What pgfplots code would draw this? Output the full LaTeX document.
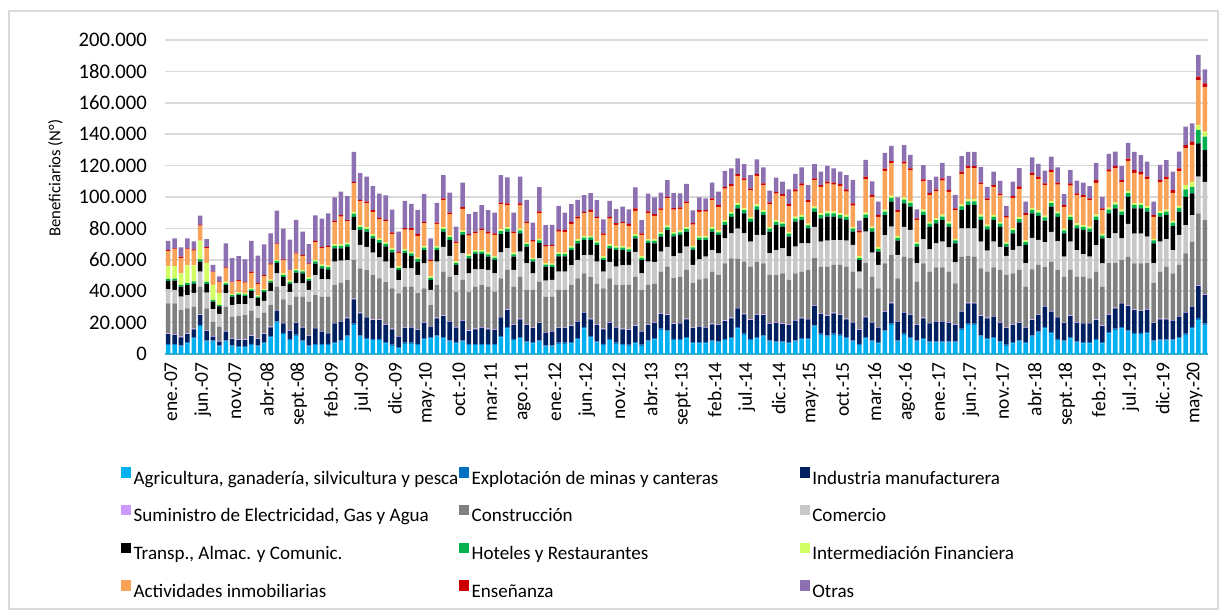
\documentclass[border=0pt]{standalone}
\usepackage{pgfplots}
\pgfplotsset{compat=1.18}
\usepackage{pgfplotstable}
\usepackage{fontspec}
\setmainfont{Carlito}
\definecolor{cAgri}{RGB}{0,176,240}
\definecolor{cMin}{RGB}{0,112,192}
\definecolor{cInd}{RGB}{0,32,96}
\definecolor{cEle}{RGB}{204,153,255}
\definecolor{cCon}{RGB}{128,128,128}
\definecolor{cCom}{RGB}{200,200,200}
\definecolor{cTra}{RGB}{0,0,0}
\definecolor{cHot}{RGB}{0,176,80}
\definecolor{cInt}{RGB}{210,255,100}
\definecolor{cInm}{RGB}{248,163,88}
\definecolor{cEns}{RGB}{204,0,0}
\definecolor{cOtr}{RGB}{141,112,178}
\definecolor{cAxis}{RGB}{75,172,198}
\definecolor{cGrid}{RGB}{217,217,217}
\newcommand{\La}[1]{\makebox[244pt][l]{\strut #1}}
\newcommand{\Lb}[1]{\makebox[246pt][l]{\strut #1}}
\newcommand{\Lc}[1]{\strut #1}
\pgfplotstableread{
x agri minas ind elec cons com trans hot int inm ens otr
0 5.7 0.8 6.2 0.4 19.1 8.9 5.5 1.3 8.0 9.7 0.5 5.9
1 5.7 0.8 5.6 0.4 19.8 8.5 5.9 1.3 8.0 10.8 0.5 6.4
2 4.7 0.8 5.1 0.4 17.0 8.5 6.4 1.2 7.3 9.8 0.8 5.9
3 6.8 0.8 5.1 0.4 15.9 8.5 6.4 1.3 11.2 10.3 0.5 6.4
4 10.0 0.8 4.9 0.4 14.0 8.9 5.9 1.3 10.2 9.4 0.8 5.1
5 17.8 0.8 6.2 0.4 17.6 9.6 6.4 1.4 12.0 9.5 0.5 5.9
6 7.9 0.8 6.0 0.4 14.0 10.0 5.5 1.3 11.9 9.7 0.5 5.1
7 7.9 0.8 2.4 0.4 8.9 8.1 4.9 1.0 9.6 8.1 0.4 4.2
8 4.7 0.8 2.4 0.4 9.2 8.1 4.7 0.9 7.6 7.0 0.4 3.2
9 7.9 0.8 5.6 0.4 15.5 8.5 5.3 1.0 1.1 8.6 0.5 15.3
10 4.7 0.8 3.9 0.4 14.0 7.4 5.3 1.0 0.8 7.3 0.5 14.9
11 4.2 0.8 3.9 0.4 14.9 7.6 5.7 1.0 0.8 7.3 0.5 15.3
12 4.2 0.8 3.9 0.4 15.5 7.0 5.1 1.0 0.8 6.8 0.5 14.2
13 5.7 0.8 4.9 0.4 15.7 7.9 4.7 1.1 0.8 9.6 0.8 19.7
14 4.7 0.8 3.9 0.4 13.0 7.9 4.9 1.0 0.8 7.3 0.5 17.4
15 6.8 0.8 5.1 0.4 13.2 7.6 5.7 1.1 0.8 8.1 0.6 19.7
16 10.6 0.8 5.6 0.4 13.8 8.9 5.3 1.2 0.8 9.6 0.7 19.1
17 20.0 0.8 6.8 0.4 14.9 8.5 6.4 1.3 0.9 9.9 0.6 20.8
18 12.7 0.8 6.0 0.4 14.9 8.5 5.9 1.2 0.9 8.3 0.6 19.7
19 8.9 0.8 5.1 0.4 15.9 8.5 5.3 1.1 0.8 6.4 0.6 19.1
20 11.5 0.8 7.3 0.4 16.6 8.5 6.8 1.3 0.9 9.9 0.6 20.8
21 7.9 0.8 8.1 0.4 19.3 8.5 6.4 1.3 0.9 8.9 0.6 14.9
22 4.7 0.8 6.0 0.4 21.5 7.4 5.9 1.2 0.9 8.3 0.6 12.3
23 5.7 0.8 9.8 0.4 20.8 12.7 7.4 1.4 1.0 11.2 0.8 16.3
24 5.7 0.8 7.7 0.4 21.9 11.0 7.0 1.4 1.0 10.6 0.8 18.0
25 5.7 0.8 6.6 0.4 23.0 11.0 6.4 1.4 1.0 11.7 0.8 20.8
26 6.8 0.8 11.9 0.4 24.0 14.9 8.5 1.6 1.0 14.0 1.0 14.9
27 7.9 0.8 11.9 0.4 24.4 14.0 7.9 1.6 1.0 17.6 1.0 14.9
28 11.0 0.8 10.9 0.4 24.0 12.7 8.5 1.6 1.0 13.6 0.8 15.3
29 18.5 0.8 15.5 0.4 24.6 19.1 8.5 2.0 1.2 18.1 1.0 19.1
30 11.0 0.8 14.1 0.4 28.3 14.9 9.6 1.8 1.1 15.2 1.0 17.0
31 9.3 0.8 13.2 0.4 29.7 14.9 9.6 1.8 1.1 15.2 1.0 15.9
32 8.9 0.8 11.9 0.4 28.3 14.2 9.1 1.7 1.0 14.3 1.0 15.3
33 8.9 0.8 11.9 0.4 26.1 13.4 9.3 1.7 1.0 12.4 1.0 15.3
34 6.8 0.8 10.9 0.4 26.8 13.2 9.6 1.6 1.0 13.4 1.0 15.5
35 5.1 0.8 9.8 0.4 25.7 13.0 10.0 1.5 1.0 9.2 1.0 14.4
36 3.6 0.8 6.6 0.4 27.2 8.5 6.4 1.4 0.9 8.6 0.8 12.7
37 6.4 0.8 9.2 0.4 26.1 11.7 9.6 1.6 1.0 12.4 0.9 17.4
38 6.4 0.8 9.6 0.4 25.7 11.7 7.9 1.6 1.0 14.0 1.0 15.5
39 5.7 0.8 8.8 0.4 23.0 11.7 8.5 1.5 1.0 13.9 1.2 15.3
40 9.3 0.8 9.8 0.4 21.5 15.9 8.5 1.6 1.0 14.5 0.9 17.6
41 10.0 0.8 6.6 0.4 13.4 9.6 6.4 1.3 0.9 9.7 0.8 13.8
42 11.0 0.8 10.9 0.4 20.8 14.9 7.4 1.6 1.0 14.0 0.8 12.7
43 10.0 0.8 13.4 0.4 27.8 15.9 9.6 1.8 1.1 17.3 1.0 14.9
44 7.9 0.8 11.9 0.4 28.3 13.2 10.2 1.7 1.0 13.7 1.0 12.7
45 6.8 0.8 9.2 0.4 22.5 10.6 6.4 1.4 0.9 11.8 0.8 9.6
46 7.9 0.8 12.4 0.4 25.7 17.0 11.7 1.7 1.0 13.9 1.0 15.7
47 5.7 0.8 8.1 0.4 24.6 11.7 9.6 1.5 1.0 12.0 1.0 12.7
48 5.7 0.8 9.2 0.4 26.8 11.0 9.8 1.5 1.0 10.7 1.0 12.7
49 5.7 0.8 10.2 0.4 26.8 10.0 9.8 1.5 1.0 12.6 1.0 15.1
50 5.7 0.8 9.2 0.4 26.8 10.6 8.5 1.5 1.0 12.2 1.2 13.8
51 5.7 0.8 8.8 0.4 24.0 11.7 8.5 1.5 1.0 13.5 1.0 13.2
52 10.6 0.8 11.9 0.4 24.4 16.6 11.7 1.8 1.1 16.0 1.1 17.6
53 16.3 0.8 10.9 0.4 25.1 14.0 10.4 1.8 1.1 14.1 1.0 16.6
54 8.9 0.8 8.8 0.4 24.0 10.6 8.5 1.5 1.0 12.4 1.0 12.1
55 10.0 0.8 11.3 0.4 26.8 15.9 11.7 1.8 1.1 15.1 1.1 17.0
56 7.2 0.8 10.5 0.4 21.9 17.0 10.6 1.6 1.0 12.3 1.0 13.8
57 6.8 0.8 8.8 0.4 24.0 10.6 7.4 1.4 0.9 10.5 1.0 11.0
58 7.9 0.8 10.9 0.4 26.1 14.9 9.6 1.7 1.0 16.5 1.0 15.5
59 4.7 0.8 8.1 0.4 22.5 10.2 8.9 1.4 0.9 10.5 1.0 12.7
60 4.7 0.8 8.8 0.4 21.9 10.6 8.1 1.4 0.9 10.9 1.0 12.7
61 6.4 0.8 9.2 0.4 24.0 11.7 9.6 1.5 1.0 13.3 1.2 15.3
62 6.4 0.8 9.2 0.4 24.0 11.7 9.6 1.5 1.0 13.0 1.5 11.0
63 6.8 0.8 10.2 0.4 25.7 12.7 9.6 1.5 1.0 14.0 1.5 11.3
64 9.3 0.8 10.5 0.4 27.2 11.7 10.6 1.6 1.0 13.2 1.2 10.6
65 16.3 0.8 9.2 0.4 24.6 11.7 9.6 1.6 1.0 14.4 1.0 10.6
66 10.6 0.8 10.7 0.4 26.4 14.2 9.6 1.6 1.0 15.3 1.2 10.6
67 7.2 0.8 10.5 0.4 25.7 14.2 10.6 1.6 1.0 14.4 1.0 10.6
68 5.7 0.8 9.2 0.4 25.7 10.6 7.4 1.5 1.0 13.5 1.0 8.9
69 8.9 0.8 10.2 0.4 27.8 10.6 8.5 1.6 1.0 16.4 1.2 10.2
70 6.4 0.8 9.6 0.4 26.8 11.7 10.6 1.5 1.0 13.5 1.0 8.9
71 5.7 0.8 9.2 0.4 27.8 12.7 9.6 1.5 1.0 14.5 1.0 9.6
72 5.1 0.8 9.4 0.4 28.3 12.7 8.5 1.5 1.0 13.9 1.2 9.3
73 6.8 0.8 10.2 0.4 31.0 15.9 8.5 1.7 1.0 14.9 1.5 13.4
74 5.1 0.8 8.3 0.4 26.1 10.6 8.5 1.5 1.0 13.5 1.0 8.5
75 7.9 0.8 9.8 0.4 25.1 14.9 11.7 1.6 1.0 16.4 1.2 11.3
76 9.3 0.8 9.8 0.4 24.6 13.8 11.7 1.6 1.0 14.9 1.2 10.6
77 15.3 0.8 9.4 0.4 26.6 12.7 9.6 1.7 1.0 14.3 1.0 10.0
78 14.2 0.8 9.8 0.4 30.4 12.7 10.6 1.8 1.1 17.3 1.0 10.6
79 8.9 0.8 9.4 0.4 28.9 13.8 12.7 1.7 1.0 14.3 1.0 9.6
80 8.9 0.8 9.8 0.4 29.3 14.9 11.7 1.7 1.0 13.9 1.0 8.9
81 10.0 0.8 11.3 0.4 31.0 14.9 9.6 1.7 1.0 15.2 1.2 11.3
82 6.8 0.8 8.8 0.4 28.3 11.7 9.6 1.5 1.0 13.5 1.0 8.1
83 6.8 0.8 9.8 0.4 29.7 12.7 12.3 1.6 1.0 15.5 1.0 8.1
84 6.8 0.8 9.2 0.4 31.0 13.8 10.6 1.6 1.0 15.5 1.0 7.4
85 7.9 0.8 10.2 0.4 33.1 13.8 11.7 1.8 1.1 17.1 1.2 10.0
86 7.2 0.8 10.5 0.4 31.4 13.8 11.7 1.7 1.0 15.2 1.2 8.5
87 8.9 0.8 11.3 0.4 36.3 15.9 8.5 2.0 1.2 20.0 1.2 10.2
88 10.0 0.8 11.9 0.4 37.8 15.9 10.6 2.0 1.2 16.4 1.2 10.0
89 16.3 0.8 11.9 0.4 31.4 19.0 12.9 2.2 1.3 17.1 1.3 10.0
90 12.1 0.8 12.4 0.4 33.1 18.0 12.7 2.1 1.2 17.8 1.2 9.1
91 8.9 0.8 11.9 0.4 33.6 15.9 12.7 2.0 1.2 16.8 1.2 8.5
92 10.0 0.8 14.1 0.4 33.6 17.0 15.9 2.2 1.3 18.1 1.3 9.3
93 11.0 0.8 13.0 0.4 32.5 18.0 12.7 2.1 1.2 15.7 1.2 10.2
94 7.9 0.8 10.5 0.4 30.8 13.8 13.8 1.8 1.1 14.6 1.0 7.6
95 7.2 0.8 11.9 0.4 30.0 15.9 15.9 2.0 1.2 16.8 1.2 9.1
96 7.2 0.8 11.1 0.4 31.9 15.9 13.8 1.9 1.1 16.6 1.2 7.9
97 6.8 0.8 10.9 0.4 28.3 14.9 12.7 1.8 1.1 16.4 1.5 9.3
98 7.9 0.8 12.6 0.4 29.7 17.0 15.9 2.0 1.2 15.9 1.5 9.8
99 9.3 0.8 12.6 0.4 29.3 18.0 14.9 2.1 1.2 18.6 1.5 10.2
100 9.3 0.8 11.9 0.4 31.0 17.0 9.6 1.9 1.1 13.8 1.2 9.6
101 17.4 0.8 12.4 0.4 30.0 20.0 9.6 2.1 1.2 16.7 1.2 9.1
102 12.1 0.8 12.6 0.4 29.7 15.9 14.9 2.0 1.2 16.8 1.2 8.5
103 11.0 0.8 12.4 0.4 31.0 16.6 15.3 2.1 1.2 17.7 1.3 10.0
104 12.1 0.8 13.0 0.4 30.4 15.9 14.9 2.1 1.2 17.1 1.3 9.1
105 11.5 0.8 12.6 0.4 31.4 15.9 13.8 2.0 1.2 17.5 1.2 7.9
106 10.0 0.8 11.3 0.4 33.1 16.6 13.2 2.0 1.2 14.8 1.5 9.1
107 7.9 0.8 11.3 0.4 32.1 17.0 8.5 1.9 1.1 13.5 1.5 14.9
108 5.7 0.8 8.8 0.4 26.1 10.6 7.4 1.5 1.0 15.0 1.2 6.4
109 10.0 0.8 12.6 0.4 34.0 20.2 8.5 2.2 1.3 21.2 1.8 10.6
110 7.9 0.8 11.3 0.4 28.9 15.3 13.4 2.0 1.2 18.9 1.3 8.5
111 6.8 0.8 9.2 0.4 24.6 14.9 8.5 1.8 1.1 19.2 1.3 8.5
112 14.2 0.8 11.9 0.4 30.4 18.0 12.7 2.3 1.3 24.6 1.5 10.0
113 18.5 0.8 13.0 0.4 30.4 18.0 15.9 2.4 1.4 20.6 1.5 9.6
114 7.9 0.8 11.9 0.4 27.2 14.9 9.1 1.8 1.1 15.4 1.2 8.1
115 12.1 0.8 13.4 0.4 35.3 19.0 15.0 2.4 1.4 21.4 1.3 10.6
116 10.0 0.8 14.1 0.4 35.7 18.0 14.9 2.3 1.3 19.5 1.3 8.5
117 7.9 0.8 9.8 0.4 27.2 11.7 10.6 1.7 1.0 14.3 1.0 5.7
118 9.3 0.8 12.6 0.4 34.6 15.3 15.5 2.2 1.3 17.9 1.3 9.1
119 7.2 0.8 11.5 0.4 32.5 14.2 14.4 2.0 1.2 17.2 1.3 8.1
120 7.2 0.8 12.6 0.4 34.2 15.3 12.7 2.0 1.2 17.2 1.3 8.1
121 7.2 0.8 12.6 0.4 34.2 16.3 13.8 2.2 1.3 21.7 1.3 10.0
122 7.2 0.8 11.9 0.4 32.1 15.5 13.2 2.0 1.2 18.9 1.3 8.9
123 7.2 0.8 10.5 0.4 26.1 13.4 12.1 1.8 1.1 18.2 1.2 8.5
124 15.3 0.8 10.9 0.4 34.6 18.0 11.7 2.3 1.3 19.5 1.3 10.0
125 18.5 0.8 13.0 0.4 29.7 17.6 14.9 2.3 1.4 19.8 1.3 9.1
126 18.5 0.8 13.0 0.4 29.3 18.0 14.9 2.3 1.4 19.8 1.3 9.1
127 11.0 0.8 12.4 0.4 30.0 17.0 13.8 2.1 1.2 19.3 1.2 9.8
128 9.3 0.8 12.6 0.4 29.3 13.4 13.6 1.9 1.1 15.5 1.2 7.4
129 10.0 0.8 13.0 0.4 31.0 16.3 13.8 2.1 1.2 17.8 1.2 8.5
130 7.2 0.8 11.9 0.4 33.1 14.9 12.7 2.0 1.2 16.8 1.2 8.1
131 5.1 0.8 10.5 0.4 33.6 12.1 5.9 1.7 1.0 15.8 1.0 6.4
132 6.8 0.8 10.9 0.4 32.5 14.9 10.6 2.0 1.2 19.3 1.3 9.1
133 7.9 0.8 10.9 0.4 33.6 14.9 15.3 2.1 1.2 18.1 1.5 11.7
134 6.8 0.8 9.2 0.4 25.7 14.9 11.7 1.8 1.1 16.1 1.2 7.4
135 11.0 0.8 9.8 0.4 31.9 20.0 15.7 2.2 1.3 20.9 1.5 9.8
136 13.6 0.8 10.5 0.4 31.4 16.0 15.2 2.2 1.3 20.1 1.5 8.1
137 16.3 0.8 13.0 0.4 24.9 15.9 13.6 2.1 1.2 19.3 1.2 8.1
138 13.2 0.8 13.0 0.4 31.4 19.0 16.0 2.3 1.3 18.4 1.4 8.5
139 8.9 0.8 13.6 0.4 29.7 18.5 15.5 2.1 1.2 17.1 1.3 9.8
140 7.9 0.8 10.9 0.4 29.3 12.7 14.9 1.9 1.1 13.8 1.2 7.0
141 10.0 0.8 13.4 0.4 28.9 18.0 13.8 2.1 1.2 18.6 1.5 8.5
142 7.2 0.8 11.9 0.4 28.9 17.0 13.8 2.0 1.2 17.8 1.3 8.1
143 6.8 0.8 11.9 0.4 29.3 14.4 15.3 2.0 1.2 17.8 1.3 7.9
144 6.8 0.8 11.9 0.4 28.3 13.8 15.9 2.0 1.2 16.7 1.3 7.9
145 8.9 0.8 11.9 0.4 30.4 17.0 15.9 2.2 1.3 20.2 1.8 11.0
146 6.8 0.8 10.2 0.4 24.6 14.9 15.9 1.8 1.1 15.0 1.2 7.4
147 13.2 0.8 10.9 0.4 32.5 16.0 15.8 2.3 1.3 22.9 1.5 9.8
148 15.3 0.8 13.0 0.4 28.3 19.0 16.0 2.3 1.4 21.8 1.5 9.1
149 16.3 0.8 15.1 0.4 27.2 13.8 14.9 2.2 1.3 17.3 1.5 8.9
150 14.2 0.8 15.5 0.4 31.0 21.0 17.2 2.4 1.4 19.1 1.5 10.0
151 12.7 0.8 14.5 0.4 29.3 19.0 16.0 2.3 1.3 19.0 1.8 11.7
152 12.7 0.8 13.8 0.4 30.0 19.0 16.0 2.3 1.3 17.9 1.8 10.6
153 13.2 0.8 14.1 0.4 29.3 17.0 15.9 2.2 1.3 17.3 1.5 9.6
154 7.9 0.8 10.9 0.4 25.1 12.7 12.7 1.8 1.1 13.9 1.2 8.5
155 8.5 0.8 12.8 0.4 30.0 19.0 16.0 2.2 1.3 18.4 1.5 9.6
156 8.5 0.8 12.8 0.4 33.1 17.5 15.4 2.2 1.3 19.4 1.5 10.6
157 8.5 0.8 11.9 0.4 29.7 14.9 15.3 2.1 1.2 17.8 1.8 11.7
158 10.0 0.8 13.0 0.4 32.5 19.1 14.9 2.3 1.3 22.2 1.8 10.6
159 12.1 0.8 13.4 0.4 37.4 18.0 18.0 4.7 2.8 23.5 2.0 11.7
160 16.3 0.8 13.0 0.4 41.0 17.0 13.8 4.2 3.2 23.5 2.0 11.7
161 21.5 1.5 20.3 0.6 45.7 23.4 21.2 8.5 3.2 28.3 2.5 13.8
162 18.3 1.2 18.0 0.6 47.2 24.4 20.2 8.5 3.2 28.3 2.5 8.9
}\datatable
\begin{document}
\begin{tikzpicture}
\path[use as bounding box] (0,0) rectangle (920.25pt,462pt);
\fill[white] (0,0) rectangle (920.25pt,462pt);
\draw[color=cGrid, line width=0.8pt] (6.75pt,5.25pt) rectangle (913.5pt,453.75pt);
\begin{axis}[
  at={(123.75pt,196.5pt)}, anchor=south west,
  scale only axis, width=782.25pt, height=235.5pt,
  ybar stacked, bar width=3.4pt,
  xmin=-0.5, xmax=162.5, ymin=0, ymax=200,
  enlargelimits=false,
  axis x line*=bottom, axis y line*=left,
  x axis line style={draw=cAxis, line width=1.1pt},
  y axis line style={draw=none},
  major tick length=0pt,
  ytick={0,20,...,200},
  yticklabels={0,20.000,40.000,60.000,80.000,100.000,120.000,140.000,160.000,180.000,200.000},
  xtick={0,5,...,160},
  xticklabels={ene.-07,jun.-07,nov.-07,abr.-08,sept.-08,feb.-09,jul.-09,dic.-09,may.-10,oct.-10,mar.-11,ago.-11,ene.-12,jun.-12,nov.-12,abr.-13,sept.-13,feb.-14,jul.-14,dic.-14,may.-15,oct.-15,mar.-16,ago.-16,ene.-17,jun.-17,nov.-17,abr.-18,sept.-18,feb.-19,jul.-19,dic.-19,may.-20},
  tick label style={inner sep=0pt},
  yticklabel style={font=\fontsize{15.5}{18}\selectfont},
  xticklabel style={font=\fontsize{14.6}{17}\selectfont, xshift=2pt, rotate=90, anchor=east},
  xticklabel shift=6pt,
  yticklabel shift=13.5pt,
  ymajorgrids, grid style={draw=cGrid, line width=1.2pt},
  ylabel={Beneficiarios (N°)},
  ylabel style={at={(axis description cs:-0.105,0.56)}, anchor=center, font=\fontsize{12.5}{15}\selectfont},
  legend columns=3,
  legend cell align=left,
  legend image code/.code={\fill[#1,draw=none] (0pt,-0.3pt) rectangle (7.5pt,7.5pt);},
  legend style={at={(axis description cs:-0.0422,-0.3604)}, anchor=north west, draw=none, fill=none,
    inner sep=0pt, outer sep=0pt, row sep=14pt,
    font=\fontsize{14.3}{17.2}\selectfont,
    nodes={inner sep=0pt},
    /tikz/every odd column/.append style={column sep=2pt},
    /tikz/every even column/.append style={column sep=0pt}},
]
\addplot[fill=cAgri, draw=none] table[x=x, y=agri] {\datatable};
\addplot[fill=cMin, draw=none] table[x=x, y=minas] {\datatable};
\addplot[fill=cInd, draw=none] table[x=x, y=ind] {\datatable};
\addplot[fill=cEle, draw=none] table[x=x, y=elec] {\datatable};
\addplot[fill=cCon, draw=none] table[x=x, y=cons] {\datatable};
\addplot[fill=cCom, draw=none] table[x=x, y=com] {\datatable};
\addplot[fill=cTra, draw=none] table[x=x, y=trans] {\datatable};
\addplot[fill=cHot, draw=none] table[x=x, y=hot] {\datatable};
\addplot[fill=cInt, draw=none] table[x=x, y=int] {\datatable};
\addplot[fill=cInm, draw=none] table[x=x, y=inm] {\datatable};
\addplot[fill=cEns, draw=none] table[x=x, y=ens] {\datatable};
\addplot[fill=cOtr, draw=none] table[x=x, y=otr] {\datatable};
\addlegendentry{\La{Agricultura, ganadería, silvicultura y pesca}}
\addlegendentry{\Lb{Explotación de minas y canteras}}
\addlegendentry{\Lc{Industria manufacturera}}
\addlegendentry{\La{Suministro de Electricidad, Gas y Agua}}
\addlegendentry{\Lb{Construcción}}
\addlegendentry{\Lc{Comercio}}
\addlegendentry{\La{Transp., Almac. y Comunic.}}
\addlegendentry{\Lb{Hoteles y Restaurantes}}
\addlegendentry{\Lc{Intermediación Financiera}}
\addlegendentry{\La{Actividades inmobiliarias}}
\addlegendentry{\Lb{Enseñanza}}
\addlegendentry{\Lc{Otras}}
\end{axis}
\end{tikzpicture}
\end{document}
